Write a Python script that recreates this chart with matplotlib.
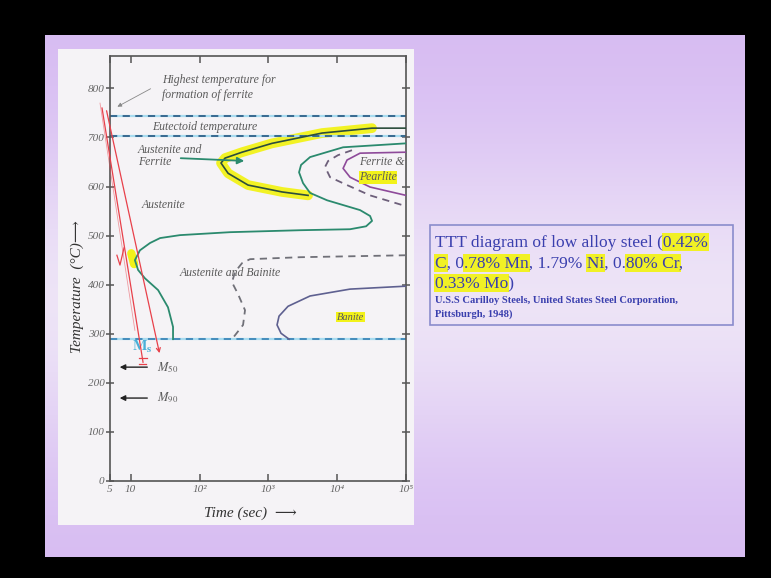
import numpy as np
import matplotlib
matplotlib.use("Agg")
import matplotlib.pyplot as plt
from matplotlib.patches import Rectangle
from matplotlib.ticker import NullLocator

plt.rcParams["mathtext.fontset"] = "stix"

W, H = 771, 578
SERIF = ["Liberation Serif", "DejaVu Serif"]
GRAY = "#5a5a5a"
BLUE = "#3a3fae"
YELLOW = "#f2f21a"

# values: time in s, temperature in deg C
FERRITE_MAX_T = 743
EUTECTOID_T = 702
MS_T = 289

ferrite_start_time = [1e5, 32100, 6030, 1130, 415, 235, 205, 260, 507, 1580, 3775]
ferrite_start_temp = [719, 719, 709, 688, 670, 658, 648, 627, 603, 589, 582]

trans_start_time = [1e5, 12190, 4035, 2985, 2792, 3190, 4035, 7130, 21500, 30060,
                    32100, 26300, 15380, 2890, 277, 52, 26.7, 19.1, 13.6, 11.5,
                    12.8, 16.1, 25, 34.8, 41.2, 41.2]
trans_start_temp = [688, 680, 660, 644, 629, 607, 587, 572, 552, 540,
                    530, 519, 513, 511, 507, 501, 495, 485, 470, 450,
                    430, 413, 389, 354, 314, MS_T]

pearlite_end_time = [1e5, 21500, 13900, 12190, 15380, 30060, 1e5]
pearlite_end_temp = [670, 668, 654, 637, 619, 599, 582]

pearlite_half_time = [16400, 10300, 7380, 6670, 7880, 13900, 30060, 1e5]
pearlite_half_temp = [674, 664, 652, 640, 619, 603, 582, 560]

bainite_half_time = [1e5, 2890, 542, 415, 328, 296, 362, 458, 429, 296]
bainite_half_temp = [460, 456, 452, 444, 426, 405, 381, 348, 318, MS_T]

bainite_end_time = [1e5, 15380, 4035, 1932, 1430, 1337, 1527, 2000]
bainite_end_temp = [397, 391, 377, 356, 336, 318, 301, MS_T]

# hand-drawn red cooling lines
cool_a_time = [3.83, 15.1]
cool_a_temp = [760, 242]
cool_b_time = [4.37, 26.7]
cool_b_temp = [760, 255]
cool_c_time = [3.58, 11.5]
cool_c_temp = [770, 307]

M50_T = 232
M90_T = 169

x_ticks = [5, 10, 100, 1000, 1e4, 1e5]
x_tick_labels = ["5", "10", "10²", "10³", "10⁴", "10⁵"]
y_ticks = list(range(0, 801, 100))

box_lines = [
    ("TTT diagram of low alloy steel (0.42%", ["0.42%"]),
    ("C, 0.78% Mn, 1.79% Ni, 0.80% Cr,", ["C", ".78% Mn", "Ni", "80% Cr"]),
    ("0.33% Mo)", ["0.33% Mo"]),
]
source_lines = ["U.S.S Carilloy Steels, United States Steel Corporation,",
                "Pittsburgh, 1948)"]


def slide_background():
    img = np.zeros((H, W, 3))
    yy, xx = np.mgrid[0:H, 0:W]
    purple = np.array([0.84, 0.73, 0.95])
    light = np.array([0.94, 0.91, 0.97])
    w = 0.9 * np.exp(-((yy - 300) / 160.0) ** 2)
    slide = purple + (light - purple) * w[..., None]
    inside = (xx >= 45) & (xx < 745) & (yy >= 35) & (yy < 557)
    img[inside] = slide[inside]
    return img


def text_width(ax, s, **kw):
    r = ax.figure.canvas.get_renderer()
    t = ax.text(0, 0, s + "|", **kw)
    w1 = t.get_window_extent(r).width
    t.remove()
    t = ax.text(0, 0, "|", **kw)
    w2 = t.get_window_extent(r).width
    t.remove()
    return w1 - w2


def main():
    fig = plt.figure(figsize=(W / 100, H / 100), dpi=100, facecolor="black")

    bg = fig.add_axes([0, 0, 1, 1], zorder=0)
    bg.imshow(slide_background(), extent=(0, W, H, 0), aspect="auto", interpolation="bilinear")
    bg.set_xlim(0, W)
    bg.set_ylim(H, 0)
    bg.axis("off")
    bg.add_patch(Rectangle((58, 49), 356, 476, fc="#f5f3f6", ec="none"))

    # axis labels (drawn in pixel space)
    bg.text(77, 287, "Temperature  (°C)⟶", rotation=90, ha="center", va="center",
            fontsize=11, style="italic", color="#333", family=SERIF + ["DejaVu Sans"])
    bg.text(250, 513, "Time (sec)  ⟶", ha="center", va="center",
            fontsize=11, style="italic", color="#333", family=SERIF + ["DejaVu Sans"])

    # description box on the right
    bg.add_patch(Rectangle((430, 225), 303, 100, fc="none", ec="#8a8ccc", lw=1.2))
    kw = dict(fontsize=12.5, family=SERIF, color=BLUE, va="baseline", ha="left")
    x0 = 435
    for (line, marks), yb in zip(box_lines, [247, 268, 288]):
        bg.text(x0, yb, line, zorder=3, **kw)
        for m in marks:
            i = line.index(m)
            xs = x0 + text_width(bg, line[:i], **kw)
            xe = x0 + text_width(bg, line[:i + len(m)], **kw)
            bg.add_patch(Rectangle((xs - 1, yb - 14), xe - xs + 2, 18, fc=YELLOW,
                                   ec="none", alpha=0.95, zorder=2))
    for line, yb in zip(source_lines, [303, 317]):
        bg.text(x0, yb, line, fontsize=7.6, family=SERIF, color=BLUE, weight="bold",
                va="baseline", ha="left")

    # TTT diagram
    ax = fig.add_axes([110 / W, 1 - 481 / H, 296 / W, 425 / H], zorder=1)
    ax.patch.set_alpha(0)
    ax.set_xscale("log")
    ax.set_xlim(5, 1e5)
    ax.set_ylim(0, 866)

    ax.plot(ferrite_start_time[1:], ferrite_start_temp[1:], color=YELLOW, lw=7,
            alpha=0.95, solid_capstyle="round", zorder=1)
    ax.plot(ferrite_start_time, ferrite_start_temp, color="#2c4d3c", lw=1.2, zorder=3)
    ax.plot(trans_start_time, trans_start_temp, color="#2b8a6e", lw=1.3, zorder=3)
    ax.plot(pearlite_end_time, pearlite_end_temp, color="#8e4a9a", lw=1.2, zorder=3)
    ax.plot(pearlite_half_time, pearlite_half_temp, color="#6d5f7a", lw=1.3,
            dashes=(4, 3), zorder=3)
    ax.plot(bainite_half_time, bainite_half_temp, color="#707078", lw=1.3,
            dashes=(4, 3), zorder=3)
    ax.plot(bainite_end_time, bainite_end_temp, color="#5e6090", lw=1.2, zorder=3)

    for temp, dash_col in [(FERRITE_MAX_T, "#2f6088"), (EUTECTOID_T, "#2f6088"),
                           (MS_T, "#3d86b8")]:
        ax.axhline(temp, color="#a8dcf0", lw=1.6, zorder=2)
        ax.axhline(temp, color=dash_col, lw=1.3, dashes=(4, 3), zorder=2)

    # text annotations
    tkw = dict(style="italic", family=SERIF, color=GRAY, fontsize=8.5, va="center")
    ax.text(28.5, 817, "Highest temperature for", **tkw)
    ax.text(28.5, 786, "formation of ferrite", **tkw)
    ax.annotate("", xy=(5.9, 760), xytext=(21.1, 802),
                arrowprops=dict(arrowstyle="-|>", color="#888", lw=0.6, mutation_scale=6))
    ax.text(20.4, 722, "Eutectoid temperature", **tkw)
    ax.text(12.8, 674, "Austenite and", **tkw)
    ax.text(12.8, 650, "Ferrite", **tkw)
    ax.annotate("", xy=(490, 652), xytext=(48.6, 658),
                arrowprops=dict(arrowstyle="-|>", color="#2b8a6e", lw=1.3, mutation_scale=10))
    ax.text(14.6, 562, "Austenite", **tkw)
    ax.text(20800, 650, "Ferrite &", **tkw)
    ax.text(20800, 619, "Pearlite", bbox=dict(fc=YELLOW, ec="none", pad=0.3), **tkw)
    ax.text(52, 424, "Austenite and Bainite", **tkw)
    ax.text(15380, 334, "Banite", ha="center", fontsize=7.5, style="italic", family=SERIF,
            color=GRAY, va="center", bbox=dict(fc=YELLOW, ec="none", pad=0.6))

    # martensite marks
    ax.text(14.6, 273, r"$\mathbf{M}_\mathbf{s}$", color="#4ab0d8", fontsize=11,
            ha="center", va="center")
    for temp, lab in [(M50_T, "$M_{50}$"), (M90_T, "$M_{90}$")]:
        ax.annotate("", xy=(6.3, temp), xytext=(19.1, temp),
                    arrowprops=dict(arrowstyle="-|>", color="#222", lw=1.0, mutation_scale=8))
        ax.text(24.1, temp, lab, color=GRAY, fontsize=9, va="center")

    # red pen marks
    red = "#e8404a"
    ax.plot(cool_a_time, cool_a_temp, color=red, lw=0.9, clip_on=False, zorder=4)
    ax.plot(cool_c_time, cool_c_temp, color=red, lw=0.6, alpha=0.5, clip_on=False, zorder=4)
    ax.annotate("", xy=(cool_b_time[1], cool_b_temp[1]), xytext=(cool_b_time[0], cool_b_temp[0]),
                arrowprops=dict(arrowstyle="->", color=red, lw=0.9, mutation_scale=7),
                annotation_clip=False, zorder=4)
    ax.plot([13.2, 17.2], [250, 250], color=red, lw=0.9, zorder=4)
    ax.plot([13.4, 16.6], [238, 238], color=red, lw=0.9, zorder=4)
    ax.plot([6.3, 6.98, 7.99], [460, 440, 475], color=red, lw=0.9, zorder=4)
    ax.plot([10.2, 11.2], [464, 442], color=YELLOW, lw=6, solid_capstyle="round", zorder=2)

    # ticks and frame
    ax.set_xticks(x_ticks)
    ax.set_xticklabels(x_tick_labels)
    ax.xaxis.set_minor_locator(NullLocator())
    ax.set_yticks(y_ticks)
    ax.tick_params(axis="x", which="both", direction="in", top=True, length=5,
                   width=1.1, color="#555", pad=3)
    ax.tick_params(axis="y", direction="inout", right=True, length=6, width=1.1,
                   color="#555", pad=1)
    for lab in ax.get_xticklabels() + ax.get_yticklabels():
        lab.set_fontfamily(SERIF)
        lab.set_fontstyle("italic")
        lab.set_fontsize(8)
        lab.set_color("#666")
    for sp in ax.spines.values():
        sp.set_color("#555")
        sp.set_linewidth(1.2)

    fig.savefig("out.png", dpi=100, facecolor="black")


if __name__ == "__main__":
    main()
